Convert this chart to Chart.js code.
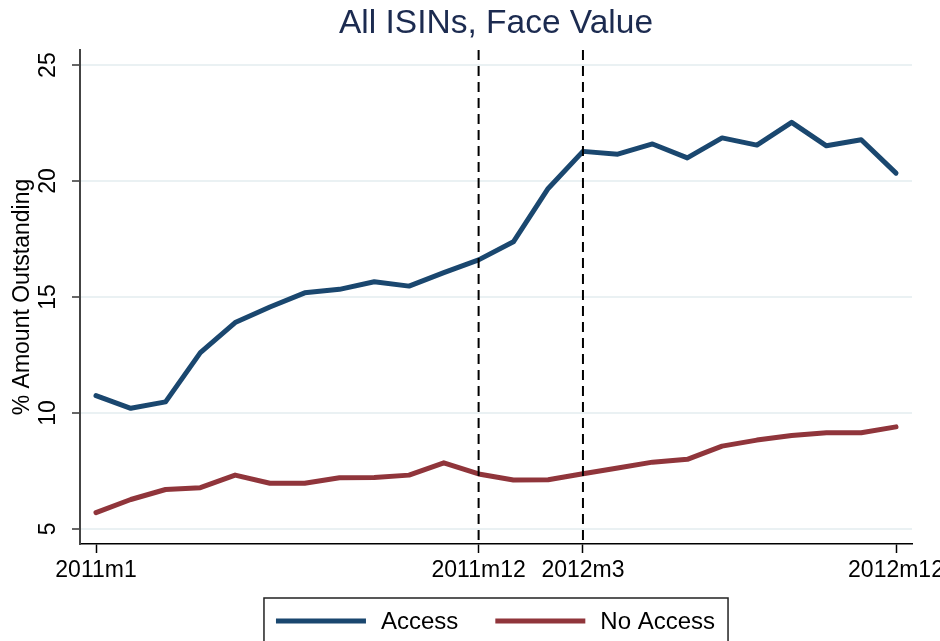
<!DOCTYPE html>
<html>
<head>
<meta charset="utf-8">
<script src="https://cdn.jsdelivr.net/npm/chart.js@4.4.0/dist/chart.umd.min.js"></script>
<style>
  html, body { margin: 0; padding: 0; background: #fff; }
</style>
</head>
<body>
<canvas id="grafico" width="940" height="641"></canvas>
<script>
// datos
const meses = ['2011m1','2011m2','2011m3','2011m4','2011m5','2011m6','2011m7','2011m8','2011m9','2011m10','2011m11','2011m12',
               '2012m1','2012m2','2012m3','2012m4','2012m5','2012m6','2012m7','2012m8','2012m9','2012m10','2012m11','2012m12'];
const acceso = [10.75, 10.2, 10.48, 12.6, 13.9, 14.57, 15.18, 15.33, 15.66, 15.47, 16.05, 16.6,
                17.38, 19.68, 21.28, 21.16, 21.6, 21.0, 21.86, 21.55, 22.53, 21.52, 21.78, 20.34];
const sinAcceso = [5.7, 6.27, 6.7, 6.78, 7.32, 6.97, 6.97, 7.21, 7.22, 7.32, 7.85, 7.37,
                   7.11, 7.12, 7.38, 7.63, 7.88, 8.0, 8.57, 8.83, 9.03, 9.15, 9.15, 9.4];
const marcasX = ['2011m1', '2011m12', '2012m3', '2012m12'];
const marcasY = [5, 10, 15, 20, 25];
const lineasVerticales = ['2011m12', '2012m3'];

const FUENTE = '"Liberation Sans", Arial, Helvetica, sans-serif';
Chart.defaults.font.family = FUENTE;
Chart.defaults.color = '#000';

// lineas punteadas, etiquetas del eje y giradas y leyenda con marco
const extras = {
  id: 'extras',
  afterDatasetsDraw(chart) {
    const {ctx, chartArea, scales} = chart;
    ctx.save();
    ctx.strokeStyle = '#000';
    ctx.lineWidth = 2;
    ctx.setLineDash([10, 6]);
    lineasVerticales.forEach(m => {
      const x = scales.x.getPixelForValue(meses.indexOf(m));
      ctx.beginPath();
      ctx.moveTo(x, chartArea.top);
      ctx.lineTo(x, chartArea.bottom);
      ctx.stroke();
    });
    ctx.restore();
  },
  afterDraw(chart) {
    const {ctx, chartArea, scales} = chart;
    const ejeY = scales.y;
    ctx.save();
    ctx.font = '23px ' + FUENTE;
    ctx.fillStyle = '#000';
    ctx.textAlign = 'center';
    ctx.textBaseline = 'middle';
    ejeY.ticks.forEach(t => {
      const py = ejeY.getPixelForValue(t.value);
      ctx.save();
      ctx.translate(ejeY.right - 31, py);
      ctx.rotate(-Math.PI / 2);
      ctx.fillText(String(t.value), 0, 0);
      ctx.restore();
    });

    // leyenda
    ctx.font = '24px ' + FUENTE;
    const ds = chart.data.datasets;
    const largoLinea = 90, sep = 15, entre = 37, margen = 12, margenDer = 13;
    const anchos = ds.map(d => ctx.measureText(d.label).width);
    const total = margen + ds.length * (largoLinea + sep) + anchos.reduce((a, b) => a + b, 0)
                + entre * (ds.length - 1) + margenDer;
    const centro = (chartArea.left + chartArea.right) / 2;
    const x0 = centro - total / 2;
    const arriba = chart.height - 43;
    const yc = arriba + 23;
    ctx.strokeStyle = '#222';
    ctx.lineWidth = 1.5;
    ctx.strokeRect(x0, arriba, total, 60);
    let x = x0 + margen;
    ctx.textAlign = 'left';
    ds.forEach((d, i) => {
      ctx.strokeStyle = d.borderColor;
      ctx.lineWidth = 5;
      ctx.beginPath();
      ctx.moveTo(x, yc);
      ctx.lineTo(x + largoLinea, yc);
      ctx.stroke();
      x += largoLinea + sep;
      ctx.fillStyle = '#000';
      ctx.fillText(d.label, x, yc + 1);
      x += anchos[i] + entre;
    });
    ctx.restore();
  }
};

function dibujarGrafico() {
  const ctx = document.getElementById('grafico');
  new Chart(ctx, {
    type: 'line',
    data: {
      datasets: [{
        label: 'Access',
        data: acceso.map((v, i) => ({x: i, y: v})),
        borderColor: '#1a476f',
        backgroundColor: '#1a476f',
        borderWidth: 5,
        pointRadius: 0,
        tension: 0,
        borderJoinStyle: 'round',
        borderCapStyle: 'round'
      }, {
        label: 'No Access',
        data: sinAcceso.map((v, i) => ({x: i, y: v})),
        borderColor: '#90353b',
        backgroundColor: '#90353b',
        borderWidth: 5,
        pointRadius: 0,
        tension: 0,
        borderJoinStyle: 'round',
        borderCapStyle: 'round'
      }]
    },
    options: {
      responsive: false,
      animation: false,
      layout: { padding: { left: 0, right: 28, top: 0, bottom: 57 } },
      plugins: {
        legend: { display: false },
        tooltip: { enabled: false },
        title: {
          display: true,
          text: 'All ISINs, Face Value',
          color: '#1c2b50',
          fullSize: false,
          font: { size: 33.5, weight: 'normal', lineHeight: 1.15 },
          padding: { top: 5, bottom: 6.5 }
        }
      },
      scales: {
        x: {
          type: 'linear',
          min: -0.46,
          max: 23.46,
          afterBuildTicks: eje => { eje.ticks = marcasX.map(m => ({value: meses.indexOf(m)})); },
          afterFit: eje => { eje.height = 40; eje.paddingLeft = 0; eje.paddingRight = 0; },
          ticks: {
            autoSkip: false,
            maxRotation: 0,
            padding: 4,
            font: { size: 23 },
            color: '#000',
            callback: v => meses[v]
          },
          grid: {
            drawOnChartArea: false,
            color: '#000',
            tickColor: '#000',
            tickLength: 9,
            tickWidth: 1.5
          },
          border: { color: '#000', width: 1.5 }
        },
        y: {
          min: 4.35,
          max: 25.65,
          afterBuildTicks: eje => { eje.ticks = marcasY.map(v => ({value: v})); },
          afterFit: eje => { eje.width = 80; eje.paddingTop = 0; eje.paddingBottom = 0; },
          ticks: { display: false },
          title: {
            display: true,
            text: '% Amount Outstanding',
            font: { size: 23 },
            color: '#000',
            padding: { top: 9, bottom: 0 }
          },
          grid: {
            color: '#eaf1f3',
            lineWidth: 2,
            tickColor: '#333',
            tickLength: 8,
            tickWidth: 1.5
          },
          border: { color: '#444', width: 2 }
        }
      }
    },
    plugins: [extras]
  });
}

dibujarGrafico();
</script>
</body>
</html>
